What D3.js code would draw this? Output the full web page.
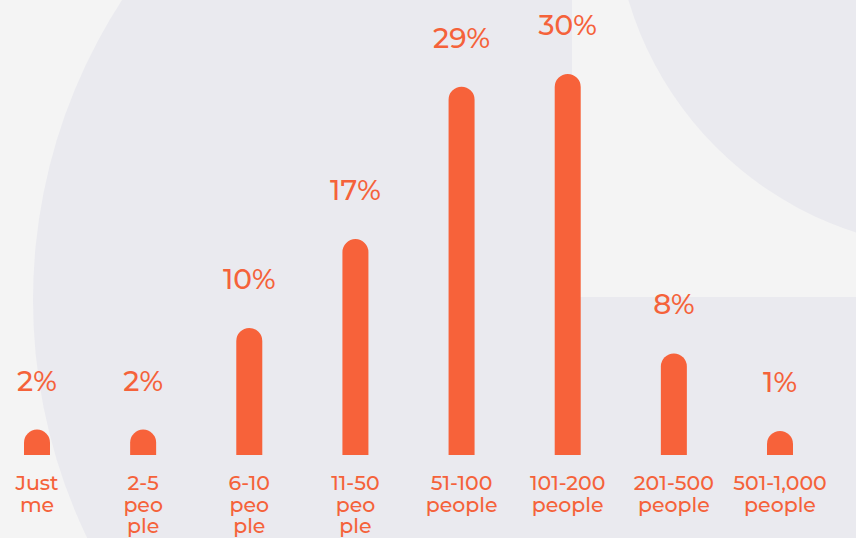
<!DOCTYPE html>
<html>
<head>
<meta charset="utf-8">
<script src="https://cdn.jsdelivr.net/npm/d3@7"></script>
<style>
  html, body { margin: 0; padding: 0; background: #f4f4f4; }
  svg { display: block; }
  text { font-family: "Montserrat", "Open Sans", "Noto Sans", sans-serif; fill: #f5623a; font-weight: 500; }
</style>
</head>
<body>
<svg width="856" height="538"></svg>
<script>
var categories = ["Just me", "2-5 people", "6-10 people", "11-50 people", "51-100 people", "101-200 people", "201-500 people", "501-1,000 people"];
var labelLines = [["Just", "me"], ["2-5", "peo", "ple"], ["6-10", "peo", "ple"], ["11-50", "peo", "ple"], ["51-100", "people"], ["101-200", "people"], ["201-500", "people"], ["501-1,000", "people"]];
var values = [2, 2, 10, 17, 29, 30, 8, 1];

var W = 856, H = 538;
var orange = "#f7623a";
var svg = d3.select("svg");

// background shapes
svg.append("rect").attr("width", W).attr("height", H).attr("fill", "#f4f4f4");
svg.append("clipPath").attr("id", "leftclip")
  .append("rect").attr("x", 0).attr("y", 0).attr("width", 572).attr("height", H);
svg.append("circle")
  .attr("cx", 583).attr("cy", 300).attr("r", 550)
  .attr("fill", "#eaeaef")
  .attr("clip-path", "url(#leftclip)");
svg.append("rect")
  .attr("x", 572).attr("y", 297).attr("width", W - 572).attr("height", H - 297)
  .attr("fill", "#eaeaef");
svg.append("circle")
  .attr("cx", 962).attr("cy", -99).attr("r", 348)
  .attr("fill", "#eaeaef");

var x = d3.scalePoint()
  .domain(categories)
  .range([37, 780]);

var baseline = 455;
var y = d3.scaleLinear()
  .domain([0, 30])
  .range([baseline, 74]);

var bw = 26, r = bw / 2, minH = 24;

function barTop(d) {
  return Math.min(y(d), baseline - minH);
}

function barPath(d, i) {
  var cx = x(categories[i]);
  var top = barTop(d);
  var x0 = cx - r, x1 = cx + r;
  return "M" + x0 + "," + baseline +
    "L" + x0 + "," + (top + r) +
    "A" + r + "," + r + " 0 0 1 " + x1 + "," + (top + r) +
    "L" + x1 + "," + baseline + "Z";
}

svg.selectAll("path.bar")
  .data(values)
  .enter()
  .append("path")
  .attr("class", "bar")
  .attr("d", barPath)
  .attr("fill", orange);

svg.selectAll("text.val")
  .data(values)
  .enter()
  .append("text")
  .attr("class", "val")
  .attr("x", function(d, i) { return x(categories[i]); })
  .attr("y", function(d) { return barTop(d) - 39; })
  .attr("text-anchor", "middle")
  .attr("font-size", 28)
  .text(function(d) { return d + "%"; });

// category labels, one text per line
svg.selectAll("g.cat")
  .data(labelLines)
  .enter()
  .append("g")
  .attr("class", "cat")
  .attr("transform", function(d, i) { return "translate(" + x(categories[i]) + ",490)"; })
  .selectAll("text")
  .data(function(d) { return d; })
  .enter()
  .append("text")
  .attr("text-anchor", "middle")
  .attr("font-size", 20.5)
  .attr("y", function(d, j) { return j * 21.5; })
  .text(function(d) { return d; });
</script>
</body>
</html>
